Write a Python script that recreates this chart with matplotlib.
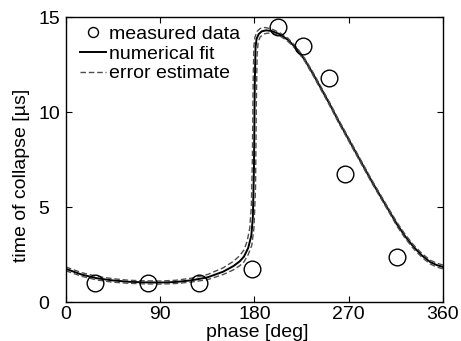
import matplotlib
matplotlib.use('Agg')
import matplotlib.pyplot as plt

plt.rcParams['font.family'] = ['Liberation Sans', 'DejaVu Sans']
plt.rcParams['font.size'] = 14

# measured data
meas_phase = [28, 78, 127, 178, 202, 226.5, 251, 266, 316]
meas_time = [1.0, 1.0, 1.0, 1.72, 14.5, 13.47, 11.77, 6.72, 2.38]

# numerical fit
fit_phase = [0, 15, 30, 45, 60, 75, 90, 105, 120, 135, 150, 160, 166, 170, 174,
             177, 178.5, 179.5, 180.3, 181, 182, 184, 187, 191, 196, 204, 212,
             220, 228, 236, 244, 252, 260, 268, 276, 284, 292, 300, 308, 316,
             324, 332, 340, 348, 354, 360]
fit_time = [1.75, 1.45, 1.25, 1.14, 1.07, 1.04, 1.03, 1.06, 1.15, 1.3, 1.6, 1.9,
            2.15, 2.4, 2.85, 3.5, 4.5, 7.0, 11.5, 13.4, 13.85, 14.1, 14.25, 14.3,
            14.27, 14.1, 13.8, 13.35, 12.75, 12.0, 11.2, 10.4, 9.55, 8.75, 7.95,
            7.15, 6.35, 5.6, 4.85, 4.1, 3.45, 2.9, 2.45, 2.1, 1.95, 1.85]

# error estimate, upper / left branch
err1_phase = [0, 15, 30, 45, 60, 75, 90, 105, 120, 135, 150, 160, 166, 170, 173,
              175.5, 177, 178, 178.8, 179.5, 180.5, 182.5, 185.5, 190, 196, 204,
              212, 220, 228, 236, 244, 252, 260, 268, 276, 284, 292, 300, 308,
              316, 324, 332, 340, 348, 354, 360]
err1_time = [1.85, 1.55, 1.35, 1.23, 1.15, 1.12, 1.11, 1.15, 1.26, 1.45, 1.8, 2.15,
             2.45, 2.75, 3.2, 3.9, 5.0, 7.5, 11.8, 13.5, 13.95, 14.25, 14.4, 14.45,
             14.38, 14.18, 13.88, 13.42, 12.82, 12.08, 11.28, 10.48, 9.63, 8.83,
             8.03, 7.23, 6.43, 5.68, 4.93, 4.2, 3.55, 3.0, 2.55, 2.2, 2.05, 1.95]

# error estimate, lower / right branch
err2_phase = [0, 15, 30, 45, 60, 75, 90, 105, 120, 135, 150, 160, 166, 170, 174,
              177.5, 179.5, 181, 181.8, 182.5, 183.5, 185.5, 188.5, 192, 197,
              204, 212, 220, 228, 236, 244, 252, 260, 268, 276, 284, 292, 300,
              308, 316, 324, 332, 340, 348, 354, 360]
err2_time = [1.65, 1.36, 1.16, 1.05, 0.99, 0.96, 0.95, 0.98, 1.06, 1.18, 1.45,
             1.7, 1.92, 2.12, 2.5, 3.0, 3.9, 6.0, 10.5, 13.0, 13.7, 13.95, 14.1,
             14.15, 14.15, 14.02, 13.72, 13.28, 12.68, 11.92, 11.12, 10.32, 9.47,
             8.67, 7.87, 7.07, 6.27, 5.52, 4.77, 4.0, 3.35, 2.8, 2.35, 2.0, 1.85,
             1.75]

fig = plt.figure(figsize=(4.61, 3.41), dpi=100)
ax = fig.add_axes([0.143, 0.114, 0.818, 0.836])

ax.plot(meas_phase, meas_time, 'o', mfc='none', mec='black', ms=12, mew=1.0,
        label='measured data', zorder=3)
ax.plot(fit_phase, fit_time, '-', color='black', lw=1.4, label='numerical fit')
ax.plot(err1_phase, err1_time, '--', color='0.3', lw=1.0, dashes=(4, 2),
        label='error estimate')
ax.plot(err2_phase, err2_time, '--', color='0.3', lw=1.0, dashes=(4, 2))

ax.set_xlim(0, 360)
ax.set_ylim(0, 15)
ax.set_xticks([0, 90, 180, 270, 360])
ax.set_yticks([0, 5, 10, 15])
ax.tick_params(direction='in', top=True, right=True, length=4, width=0.8,
               labelsize=14)
ax.tick_params(axis='x', pad=2.5)
ax.tick_params(axis='y', pad=20)
for lab in ax.get_yticklabels():
    lab.set_horizontalalignment('left')
for s in ax.spines.values():
    s.set_linewidth(1.0)

ax.set_xlabel('phase [deg]', fontsize=14, va='center')
ax.xaxis.set_label_coords(0.507, -0.105)
ax.set_ylabel('time of collapse [\u00b5s]', fontsize=14, va='center')
ax.yaxis.set_label_coords(-0.119, 0.444)

leg = ax.legend(loc='upper left', bbox_to_anchor=(0.037, 0.97), frameon=False,
                fontsize=14, markerscale=0.6, handlelength=1.35,
                handletextpad=0.15, labelspacing=0.1, borderaxespad=0,
                borderpad=0)

fig.savefig('out.png', dpi=100)
